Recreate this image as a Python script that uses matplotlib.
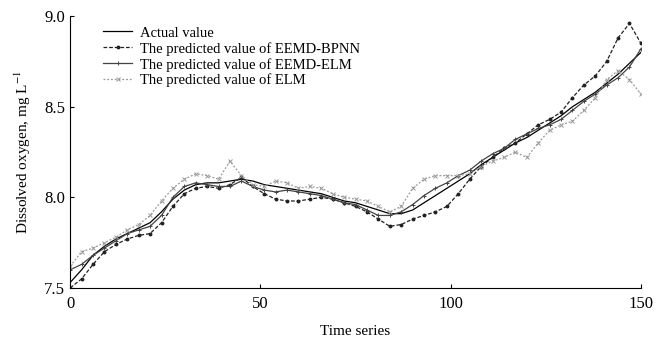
import matplotlib
matplotlib.use("Agg")
import matplotlib.pyplot as plt
import numpy as np

plt.rcParams['font.family'] = ['Liberation Serif', 'DejaVu Serif']
plt.rcParams['mathtext.fontset'] = 'stix'

time = list(range(0, 151, 3))

actual = [7.53, 7.60, 7.68, 7.73, 7.77, 7.80, 7.83, 7.86, 7.92, 7.99,
          8.04, 8.07, 8.08, 8.08, 8.09, 8.10, 8.09, 8.07, 8.06, 8.05,
          8.04, 8.03, 8.02, 8.00, 7.98, 7.97, 7.95, 7.93, 7.91, 7.91,
          7.93, 7.97, 8.01, 8.05, 8.09, 8.13, 8.18, 8.22, 8.26, 8.30,
          8.33, 8.37, 8.41, 8.45, 8.50, 8.54, 8.58, 8.63, 8.68, 8.74, 8.80]

eemd_bpnn = [7.50, 7.55, 7.63, 7.70, 7.74, 7.77, 7.79, 7.80, 7.86, 7.95,
             8.02, 8.05, 8.06, 8.05, 8.07, 8.11, 8.06, 8.02, 7.99, 7.98,
             7.98, 7.99, 8.00, 7.99, 7.97, 7.95, 7.92, 7.88, 7.84, 7.85,
             7.88, 7.90, 7.92, 7.95, 8.02, 8.10, 8.17, 8.22, 8.27, 8.30,
             8.35, 8.40, 8.43, 8.47, 8.55, 8.62, 8.67, 8.75, 8.88, 8.96, 8.85]

eemd_elm = [7.60, 7.63, 7.68, 7.72, 7.76, 7.80, 7.82, 7.84, 7.90, 8.00,
            8.06, 8.08, 8.07, 8.06, 8.06, 8.09, 8.06, 8.04, 8.03, 8.04,
            8.03, 8.02, 8.01, 7.99, 7.97, 7.96, 7.93, 7.90, 7.90, 7.92,
            7.96, 8.01, 8.05, 8.08, 8.12, 8.15, 8.20, 8.24, 8.27, 8.32,
            8.35, 8.38, 8.40, 8.43, 8.48, 8.53, 8.57, 8.62, 8.66, 8.72, 8.82]

elm = [7.62, 7.70, 7.72, 7.75, 7.78, 7.82, 7.85, 7.90, 7.98, 8.05,
       8.10, 8.13, 8.12, 8.10, 8.20, 8.12, 8.07, 8.06, 8.09, 8.08,
       8.05, 8.06, 8.05, 8.02, 8.00, 7.99, 7.98, 7.95, 7.92, 7.95,
       8.05, 8.10, 8.12, 8.12, 8.12, 8.13, 8.17, 8.20, 8.22, 8.25,
       8.22, 8.30, 8.37, 8.40, 8.42, 8.48, 8.55, 8.65, 8.70, 8.65, 8.57]

labels = ["Actual value",
          "The predicted value of EEMD-BPNN",
          "The predicted value of EEMD-ELM",
          "The predicted value of ELM"]

fig = plt.figure(figsize=(6.56, 3.44), dpi=100)
ax = fig.add_axes([0.107, 0.163, 0.870, 0.790])

ax.plot(time, actual, color='black', lw=0.9, label=labels[0])
ax.plot(time, eemd_bpnn, color='#222222', lw=0.9, ls=(0, (3, 1.5)),
        marker='o', ms=1.8, label=labels[1])
ax.plot(time, eemd_elm, color='#444444', lw=0.9, ls='-',
        marker='+', ms=3, mew=0.7, label=labels[2])
ax.plot(time, elm, color='#999999', lw=0.9, ls=(0, (1.5, 1.5)),
        marker='x', ms=2.5, mew=0.7, label=labels[3])

ax.set_xlim(0, 150)
ax.set_ylim(7.5, 9.0)
ax.set_xticks([0, 50, 100, 150])
ax.set_yticks([7.5, 8.0, 8.5, 9.0])
ax.set_yticklabels(['7.5', '8.0', '8.5', '9.0'])
ax.spines['top'].set_visible(False)
ax.spines['right'].set_visible(False)
ax.tick_params(direction='in', length=3, width=0.8, labelsize=12)
ax.tick_params(axis='x', pad=6)
ax.set_xlabel('Time series', fontsize=11, labelpad=9)
ax.set_ylabel('Dissolved oxygen, mg L$^{-1}$', fontsize=11, labelpad=8)

leg = ax.legend(loc='upper left', bbox_to_anchor=(0.04, 1.0), frameon=False,
                fontsize=10.5, handlelength=2.0, handletextpad=0.5,
                labelspacing=0.15, borderaxespad=0.3)

fig.savefig('out.png', dpi=100)
